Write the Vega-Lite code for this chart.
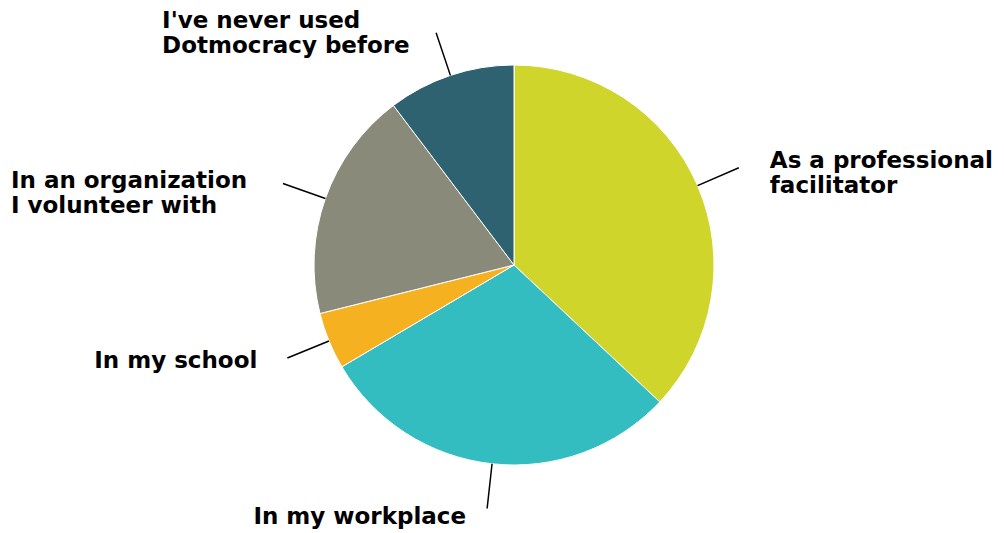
{
  "$schema": "https://vega.github.io/schema/vega-lite/v6.json",
  "width": 1004,
  "height": 533,
  "autosize": {"type": "fit", "contains": "padding"},
  "padding": {"left": 20, "top": 0, "right": 0, "bottom": 3},
  "background": "white",
  "view": {"stroke": null},
  "config": {"text": {"font": "DejaVu Sans"}},
  "data": {
    "values": [
      {"rank": 1, "cat": "As a professional facilitator", "label": "As a professional\nfacilitator", "share": 37.0},
      {"rank": 2, "cat": "In my workplace", "label": "In my workplace", "share": 29.5},
      {"rank": 3, "cat": "In my school", "label": "In my school", "share": 4.6},
      {"rank": 4, "cat": "In an organization I volunteer with", "label": "In an organization\nI volunteer with", "share": 18.6},
      {"rank": 5, "cat": "I've never used Dotmocracy before", "label": "I've never used\nDotmocracy before", "share": 10.3}
    ]
  },
  "encoding": {
    "theta": {"field": "share", "type": "quantitative", "stack": true},
    "order": {"field": "rank", "type": "quantitative"}
  },
  "layer": [
    {
      "mark": {"type": "arc", "outerRadius": 200, "stroke": "white", "strokeWidth": 1},
      "encoding": {
        "color": {
          "field": "cat",
          "type": "nominal",
          "legend": null,
          "scale": {
            "domain": ["As a professional facilitator", "In my workplace", "In my school", "In an organization I volunteer with", "I've never used Dotmocracy before"],
            "range": ["#CFD52A", "#33BDC0", "#F6B120", "#8A8A7A", "#2F6270"]
          }
        }
      }
    },
    {
      "mark": {"type": "arc", "radius": 200, "radius2": 245, "padAngle": 3, "fill": null, "stroke": "black", "strokeWidth": 1.5},
      "encoding": {"detail": {"field": "cat"}}
    },
    {
      "mark": {"type": "text", "radius": 245, "dx": 31, "dy": -7, "align": "left", "baseline": "middle", "fontSize": 23, "fontWeight": "bold", "lineHeight": 25, "lineBreak": "\n", "fill": "black"},
      "encoding": {
        "detail": {"field": "cat"},
        "text": {"condition": {"test": "datum.rank === 1", "field": "label"}, "value": ""}
      }
    },
    {
      "mark": {"type": "text", "radius": 245, "dx": -21, "dy": 8, "align": "right", "baseline": "middle", "fontSize": 23, "fontWeight": "bold", "lineHeight": 25, "lineBreak": "\n", "fill": "black"},
      "encoding": {
        "detail": {"field": "cat"},
        "text": {"condition": {"test": "datum.rank === 2", "field": "label"}, "value": ""}
      }
    },
    {
      "mark": {"type": "text", "radius": 245, "dx": -30, "dy": 3, "align": "right", "baseline": "middle", "fontSize": 23, "fontWeight": "bold", "lineHeight": 25, "lineBreak": "\n", "fill": "black"},
      "encoding": {
        "detail": {"field": "cat"},
        "text": {"condition": {"test": "datum.rank === 3", "field": "label"}, "value": ""}
      }
    },
    {
      "mark": {"type": "text", "radius": 245, "dx": -272, "dy": -2, "align": "left", "baseline": "middle", "fontSize": 23, "fontWeight": "bold", "lineHeight": 25, "lineBreak": "\n", "fill": "black"},
      "encoding": {
        "detail": {"field": "cat"},
        "text": {"condition": {"test": "datum.rank === 4", "field": "label"}, "value": ""}
      }
    },
    {
      "mark": {"type": "text", "radius": 245, "dx": -274, "dy": -12, "align": "left", "baseline": "middle", "fontSize": 23, "fontWeight": "bold", "lineHeight": 25, "lineBreak": "\n", "fill": "black"},
      "encoding": {
        "detail": {"field": "cat"},
        "text": {"condition": {"test": "datum.rank === 5", "field": "label"}, "value": ""}
      }
    }
  ]
}
